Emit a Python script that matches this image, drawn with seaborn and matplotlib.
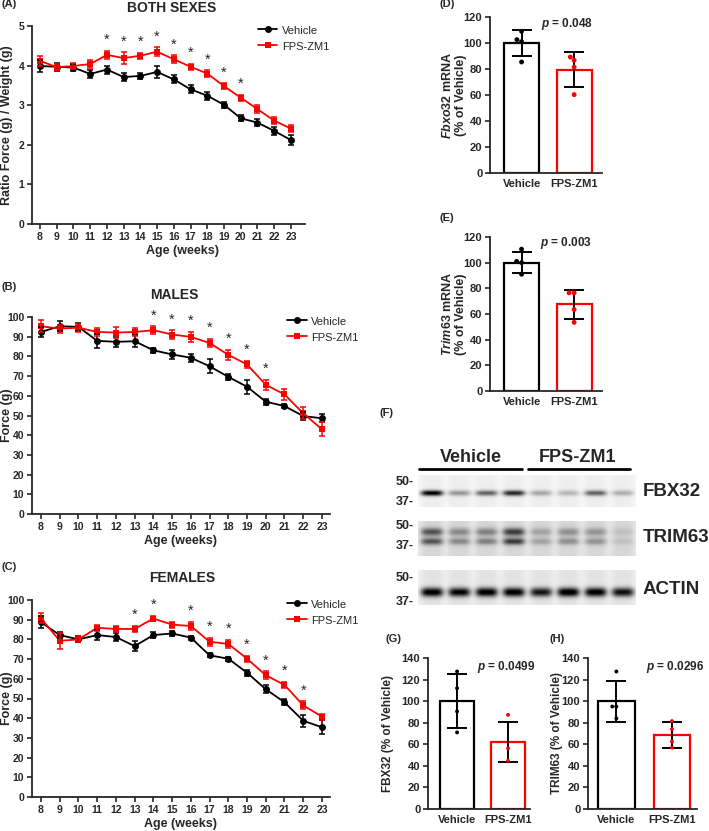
import numpy as np
import pandas as pd
import matplotlib.pyplot as plt
import seaborn as sns

# ---- data ----
weeks = list(range(8, 24))
groups = ["Vehicle", "FPS-ZM1"]
pal = {"Vehicle": "black", "FPS-ZM1": "red"}

# (A) both sexes, ratio force / weight
both_veh = [3.99, 3.97, 3.95, 3.79, 3.90, 3.71, 3.74, 3.84, 3.65, 3.40, 3.24, 3.01, 2.67, 2.56, 2.35, 2.12]
both_veh_sem = [0.15, 0.10, 0.08, 0.10, 0.10, 0.10, 0.08, 0.15, 0.10, 0.10, 0.10, 0.07, 0.07, 0.08, 0.10, 0.13]
both_fps = [4.12, 3.96, 3.99, 4.04, 4.27, 4.19, 4.25, 4.35, 4.16, 3.97, 3.80, 3.48, 3.19, 2.90, 2.61, 2.41]
both_fps_sem = [0.12, 0.08, 0.08, 0.10, 0.10, 0.15, 0.08, 0.12, 0.10, 0.08, 0.08, 0.07, 0.08, 0.10, 0.08, 0.08]
both_sig = [12, 13, 14, 15, 16, 17, 18, 19, 20]

# (B) males, force (g)
males_veh = [92.4, 95.3, 95.0, 87.9, 87.4, 87.7, 83.1, 81.0, 79.3, 75.0, 69.6, 64.6, 57.0, 54.8, 49.7, 48.6]
males_veh_sem = [2.5, 2.5, 2.0, 3.5, 2.5, 3.0, 1.2, 2.2, 2.0, 3.5, 1.5, 3.5, 1.5, 1.0, 2.0, 2.0]
males_fps = [95.3, 94.1, 94.6, 92.4, 92.1, 92.4, 93.3, 91.1, 89.9, 86.8, 80.8, 75.9, 65.6, 60.7, 51.1, 43.0]
males_fps_sem = [3.0, 2.0, 2.0, 2.0, 3.0, 2.0, 2.0, 2.2, 2.5, 2.0, 2.5, 2.0, 2.5, 3.0, 3.0, 3.5]
males_sig = [14, 15, 16, 17, 18, 19, 20]

# (C) females, force (g)
fem_veh = [88.7, 82.2, 80.0, 82.2, 81.2, 76.6, 82.2, 83.0, 80.9, 71.9, 70.2, 63.1, 54.7, 48.1, 38.7, 35.4]
fem_veh_sem = [3.0, 1.5, 1.5, 2.5, 2.0, 2.5, 1.5, 1.5, 1.0, 1.0, 1.0, 1.5, 2.0, 1.5, 3.0, 3.5]
fem_fps = [90.7, 79.3, 80.0, 85.9, 85.3, 85.3, 90.6, 87.5, 86.8, 78.8, 77.7, 70.2, 61.8, 56.9, 46.5, 40.8]
fem_fps_sem = [2.5, 4.0, 1.5, 1.5, 1.5, 1.5, 1.5, 1.5, 2.0, 2.0, 2.0, 1.5, 2.0, 1.5, 2.0, 1.5]
fem_sig = [13, 14, 16, 17, 18, 19, 20, 21, 22]

# (D) Fbxo32 mRNA
fbxo_means = [100, 79.5]
fbxo_sd = [10, 13.3]
fbxo_veh_pts = [109, 102.6, 101, 85.4]
fbxo_fps_pts = [89.2, 86.7, 81.5, 60.3]
fbxo_p = "0.048"

# (E) Trim63 mRNA
trim_means = [100, 67.5]
trim_sd = [8, 11.2]
trim_veh_pts = [110.5, 101, 100, 91]
trim_fps_pts = [76.5, 76.5, 63.5, 53.5]
trim_p = "0.003"

# (G) FBX32 protein
fbx_means = [100, 62.5]
fbx_sd = [25, 18.5]
fbx_veh_pts = [127.5, 112, 90.5, 71]
fbx_fps_pts = [87.3, 56.2, 44.7]
fbx_p = "0.0499"

# (H) TRIM63 protein
trimp_means = [100, 68.5]
trimp_sd = [19, 11.8]
trimp_veh_pts = [127.5, 95, 95, 84]
trimp_fps_pts = [81.5, 74, 62.5, 57]
trimp_p = "0.0296"

# (F) western blot band darkness per lane (4 vehicle + 4 FPS-ZM1)
blot_fbx32 = [0.95, 0.35, 0.55, 0.78, 0.28, 0.22, 0.55, 0.25]
blot_trim63 = [0.7, 0.42, 0.46, 0.82, 0.28, 0.38, 0.36, 0.12]
blot_actin = [0.95, 0.9, 0.95, 0.95, 0.82, 0.98, 0.95, 0.85]

# ---- style ----
sns.set_style("ticks")
plt.rcParams["font.family"] = ["Liberation Sans", "DejaVu Sans"]
plt.rcParams["font.weight"] = "bold"
plt.rcParams["axes.labelweight"] = "bold"
plt.rcParams["axes.linewidth"] = 1.3
plt.rcParams["xtick.major.width"] = 1.2
plt.rcParams["ytick.major.width"] = 1.2
plt.rcParams["xtick.major.size"] = 3.5
plt.rcParams["ytick.major.size"] = 3.5
plt.rcParams["mathtext.fontset"] = "custom"
plt.rcParams["mathtext.rm"] = "Liberation Sans:bold"
plt.rcParams["mathtext.it"] = "Liberation Sans:italic:bold"
plt.rcParams["mathtext.bf"] = "Liberation Sans:bold"

W, H = 709, 831
fig = plt.figure(figsize=(W / 100, H / 100), dpi=100)


def px_axes(left, top, right, bottom):
    return fig.add_axes([left / W, 1 - bottom / H, (right - left) / W, (bottom - top) / H])


def line_panel(ax, veh, veh_sem, fps, fps_sem, sig, star_off, ylim, ystep, ylabel,
               xlim, leg_anchor, ylab_x, xlab_x):
    df = pd.DataFrame({
        "week": weeks * 2,
        "value": veh + fps,
        "group": ["Vehicle"] * len(weeks) + ["FPS-ZM1"] * len(weeks),
    })
    sns.lineplot(data=df, x="week", y="value", hue="group", style="group",
                 hue_order=groups, style_order=groups, palette=pal,
                 markers={"Vehicle": "o", "FPS-ZM1": "s"}, dashes=False,
                 markersize=5, markeredgewidth=0, linewidth=1.3, ax=ax)
    ax.errorbar(weeks, veh, yerr=veh_sem, fmt="none", ecolor="black",
                elinewidth=1.1, capsize=2.5, capthick=1.1)
    ax.errorbar(weeks, fps, yerr=fps_sem, fmt="none", ecolor="red",
                elinewidth=1.1, capsize=2.5, capthick=1.1)
    for w in sig:
        i = weeks.index(w)
        ax.text(w, fps[i] + fps_sem[i] + star_off, "*", ha="center", va="center",
                fontsize=10.5, fontweight="normal")
    ax.set_xlim(*xlim)
    ax.set_ylim(*ylim)
    ax.set_xticks(weeks)
    ax.set_yticks(np.arange(ylim[0], ylim[1] + ystep / 2, ystep))
    ax.tick_params(labelsize=7.5, pad=2)
    ax.set_xlabel("Age (weeks)", fontsize=9)
    ax.set_ylabel(ylabel, fontsize=9)
    ax.yaxis.set_label_coords(ylab_x, 0.5)
    ax.xaxis.set_label_coords(xlab_x, -0.105)
    sns.despine(ax=ax)
    sns.move_legend(ax, "upper left", bbox_to_anchor=leg_anchor, frameon=False,
                    title=None, handlelength=1.4, handletextpad=0.35,
                    labelspacing=0.35, borderpad=0, borderaxespad=0)
    for t in ax.get_legend().get_texts():
        t.set_fontweight("normal")
        t.set_fontsize(8)


def bar_panel(ax, means, sds, veh_pts, fps_pts, ymax, ylabel, xlim, width, pt_size,
              ylabel_size, ylab_x):
    sns.barplot(x=groups, y=means, hue=groups, order=groups, hue_order=groups,
                palette=pal, fill=False, saturation=1, linewidth=1.6, width=width,
                errorbar=None, legend=False, ax=ax)
    ax.errorbar([0, 1], means, yerr=sds, fmt="none", ecolor="black",
                elinewidth=1.4, capsize=7, capthick=1.4, zorder=3)
    pts = pd.DataFrame({
        "group": ["Vehicle"] * len(veh_pts) + ["FPS-ZM1"] * len(fps_pts),
        "value": veh_pts + fps_pts,
    })
    sns.swarmplot(data=pts, x="group", y="value", hue="group", order=groups,
                  hue_order=groups, palette=pal, size=pt_size, legend=False,
                  ax=ax, zorder=4)
    ax.set_xlim(*xlim)
    ax.set_ylim(0, ymax)
    ax.set_yticks(np.arange(0, ymax + 1, 20))
    ax.set_xlabel("")
    ax.set_ylabel(ylabel, fontsize=ylabel_size, linespacing=1.1)
    ax.yaxis.set_label_coords(ylab_x, 0.5)
    ax.tick_params(axis="x", length=0, labelsize=8, pad=4)
    ax.tick_params(axis="y", labelsize=8, pad=2)
    sns.despine(ax=ax)


# ---- line panels ----
ax_a = px_axes(32, 26, 305, 224)
line_panel(ax_a, both_veh, both_veh_sem, both_fps, both_fps_sem, both_sig, 0.27,
           (0, 5), 1, "Ratio Force (g) / Weight (g)", (7.52, 23.84), (0.828, 1.01),
           -0.07, 0.55)

ax_b = px_axes(32, 317, 330, 514)
line_panel(ax_b, males_veh, males_veh_sem, males_fps, males_fps_sem, males_sig, 5.5,
           (0, 100), 10, "Force (g)", (7.52, 23.43), (0.856, 1.01), -0.064, 0.5)

ax_c = px_axes(32, 600, 330, 797)
line_panel(ax_c, fem_veh, fem_veh_sem, fem_fps, fem_fps_sem, fem_sig, 5.5,
           (0, 100), 10, "Force (g)", (7.52, 23.43), (0.856, 1.01), -0.064, 0.5)

# ---- bar panels ----
ax_d = px_axes(490, 17, 602, 173)
bar_panel(ax_d, fbxo_means, fbxo_sd, fbxo_veh_pts, fbxo_fps_pts, 120,
          r"$\it{Fbxo32}$ mRNA" + "\n(% of Vehicle)", (-0.6, 1.53), 0.67, 3.5, 9, -0.205)

ax_e = px_axes(490, 237, 602, 391)
bar_panel(ax_e, trim_means, trim_sd, trim_veh_pts, trim_fps_pts, 120,
          r"$\it{Trim63}$ mRNA" + "\n(% of Vehicle)", (-0.6, 1.53), 0.67, 3.5, 9, -0.205)

ax_g = px_axes(428, 658, 530, 809)
bar_panel(ax_g, fbx_means, fbx_sd, fbx_veh_pts, fbx_fps_pts, 140,
          "FBX32 (% of Vehicle)", (-0.57, 1.43), 0.66, 2.8, 8.5, -0.33)

ax_h = px_axes(588, 658, 697, 809)
bar_panel(ax_h, trimp_means, trimp_sd, trimp_veh_pts, trimp_fps_pts, 140,
          "TRIM63 (% of Vehicle)", (-0.51, 1.45), 0.66, 2.8, 8.5, -0.23)

# ---- overlay: panel letters, titles, p values, western blot ----
ov = fig.add_axes([0, 0, 1, 1])
ov.patch.set_visible(False)


def blot(levels, height, bands, bg, smear):
    # bands: list of (centre fraction, thickness px, weight)
    lane_w = 27
    img = np.full((height, lane_w * len(levels)), bg)
    yy = np.arange(height)[:, None]
    xx = np.arange(lane_w * len(levels))[None, :]
    for i, lvl in enumerate(levels):
        cx = (i + 0.5) * lane_w
        prof_x = np.exp(-((xx - cx) / 11) ** 4)
        img = img + smear * prof_x * np.ones_like(yy)
        for cf, th, wt in bands:
            prof_y = np.exp(-((yy - cf * height) / th) ** 2)
            img = img + lvl * wt * prof_x * prof_y
    return np.clip(img, 0, 1)


blot_left, blot_right = 418, 636
rows = [
    (blot_fbx32, 475, 507, [(0.55, 2.8, 1.0)], 0.03, 0.04, "FBX32", 492, 482, 502),
    (blot_trim63, 521, 556, [(0.3, 4.0, 0.75), (0.57, 3.5, 0.75)], 0.09, 0.07,
     "TRIM63", 538, 526, 546),
    (blot_actin, 570, 605, [(0.62, 4.5, 1.0)], 0.06, 0.05, "ACTIN", 590, 578, 602),
]
for levels, top, bottom, bands, bg, smear, name, ly, y50, y37 in rows:
    img = blot(levels, bottom - top, bands, bg, smear)
    ov.imshow(img, cmap="gray_r", vmin=0, vmax=1, aspect="auto",
              extent=(blot_left, blot_right, bottom, top), interpolation="bilinear")
    ov.text(643, ly, name, fontsize=13.5, va="center", ha="left")
    ov.text(414, y50, "50-", fontsize=9, va="center", ha="right")
    ov.text(414, y37, "37-", fontsize=9, va="center", ha="right")

ov.text(471, 458, "Vehicle", fontsize=13, ha="center", va="center")
ov.text(578, 458, "FPS-ZM1", fontsize=13, ha="center", va="center")
ov.plot([419, 522], [469, 469], color="black", lw=2)
ov.plot([528, 630], [469, 469], color="black", lw=2)

letters = [("(A)", 2, 4), ("(B)", 2, 287), ("(C)", 2, 567), ("(D)", 440, 4),
           ("(E)", 440, 218), ("(F)", 380, 413), ("(G)", 385, 639), ("(H)", 550, 639)]
for lab, x, y in letters:
    ov.text(x, y, lab, fontsize=8, ha="left", va="center")

titles = [("BOTH SEXES", 172, 8.5), ("MALES", 174, 295), ("FEMALES", 182, 578)]
for lab, x, y in titles:
    ov.text(x, y, lab, fontsize=10, ha="center", va="center")

pvals = [(fbxo_p, 567, 23.5), (trim_p, 566, 243), (fbx_p, 506, 667), (trimp_p, 675, 667)]
for p, x, y in pvals:
    ov.text(x, y, r"$p$ = " + p, fontsize=8.5, ha="center", va="center")

ov.set_xlim(0, W)
ov.set_ylim(H, 0)
ov.axis("off")

fig.savefig("out.png", dpi=100)
